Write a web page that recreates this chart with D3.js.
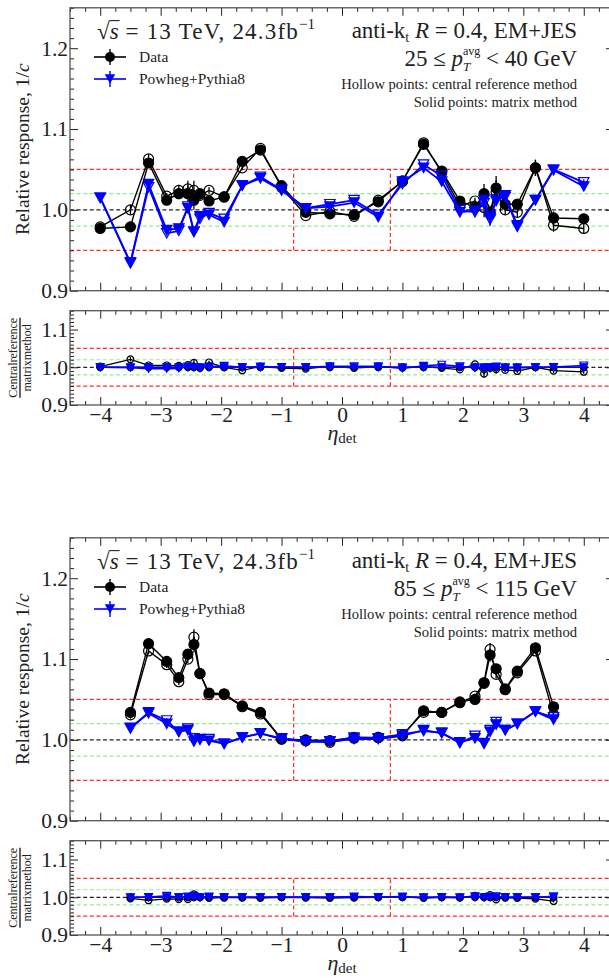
<!DOCTYPE html>
<html><head><meta charset="utf-8">
<script src="https://cdn.jsdelivr.net/npm/d3@7"></script>
<style>body{margin:0;background:#fff}svg{display:block}text{font-family:'Liberation Serif',serif;fill:#222;white-space:pre}</style>
</head><body><svg id="c" width="609" height="978"></svg>
<script>
// ---------- DATA ----------
const etaTop = [-4.0,-3.5,-3.2,-2.9,-2.7,-2.55,-2.45,-2.35,-2.2,-1.95,-1.65,-1.35,-1.0,-0.6,-0.2,0.2,0.6,1.0,1.35,1.65,1.95,2.2,2.35,2.45,2.55,2.7,2.9,3.2,3.5,4.0];
const dataMatrixTop  = [0.977,0.979,1.058,1.012,1.020,1.020,1.012,1.020,1.011,1.016,1.060,1.074,1.030,0.997,0.995,0.994,1.010,1.036,1.081,1.048,1.011,1.003,1.020,0.997,1.027,1.007,1.007,1.052,0.990,0.989];
const dataCentralTop = [0.979,1.000,1.063,1.017,1.024,1.026,1.024,1.018,1.024,1.016,1.052,1.076,1.028,0.993,0.998,0.992,1.012,1.035,1.083,1.046,1.005,1.011,1.003,0.995,1.022,1.000,0.997,1.052,0.981,0.977];
const mcMatrixTop    = [1.015,0.935,1.032,0.975,0.977,1.002,0.973,0.992,0.994,0.985,1.030,1.039,1.024,1.002,1.004,1.009,0.991,1.035,1.052,1.035,0.997,0.999,1.012,0.991,1.011,1.018,0.981,1.012,1.049,1.029];
const mcCentralTop   = [1.015,0.934,1.028,0.971,0.974,1.004,0.973,0.989,0.996,0.989,1.030,1.041,1.025,1.002,1.007,1.012,0.994,1.032,1.056,1.042,1.000,0.997,1.008,0.988,1.013,1.016,0.979,1.012,1.050,1.034];
const ratioDataTop   = [1.002,1.021,1.005,1.005,1.004,1.006,1.012,0.998,1.013,1.000,0.992,1.002,0.998,0.996,1.003,0.998,1.002,0.999,1.002,0.998,0.994,1.008,0.983,0.998,0.995,0.993,0.990,1.000,0.991,0.988];
const ratioMcTop     = [1.000,0.999,0.996,0.996,0.997,1.002,1.000,0.997,1.002,1.004,1.000,1.002,1.001,1.000,1.003,1.003,1.003,0.997,1.004,1.007,1.003,0.998,0.996,0.997,1.002,0.998,0.998,1.000,1.001,1.005];
const errDataTop     = [0.005,0.006,0.006,0.004,0.007,0.010,0.012,0.006,0.004,0.003,0.003,0.003,0.003,0.002,0.002,0.002,0.002,0.003,0.003,0.003,0.004,0.004,0.012,0.008,0.015,0.006,0.006,0.010,0.008,0.006];
const errMcTop       = [0.003,0.004,0.004,0.003,0.003,0.004,0.004,0.003,0.003,0.002,0.002,0.002,0.002,0.002,0.002,0.002,0.002,0.002,0.002,0.002,0.003,0.003,0.006,0.008,0.006,0.004,0.004,0.004,0.004,0.004];
const errRatioDataTop= [0.004,0.006,0.005,0.004,0.005,0.007,0.009,0.005,0.004,0.003,0.003,0.003,0.003,0.002,0.002,0.002,0.002,0.003,0.003,0.003,0.004,0.004,0.010,0.007,0.012,0.005,0.005,0.006,0.006,0.005];
const errRatioMcTop  = [0.003,0.003,0.003,0.003,0.003,0.003,0.003,0.003,0.003,0.002,0.002,0.002,0.002,0.002,0.002,0.002,0.002,0.002,0.002,0.002,0.003,0.003,0.004,0.004,0.004,0.003,0.003,0.003,0.003,0.004];

const etaBot = [-3.5,-3.2,-2.9,-2.7,-2.55,-2.45,-2.35,-2.2,-1.95,-1.65,-1.35,-1.0,-0.6,-0.2,0.2,0.6,1.0,1.35,1.65,1.95,2.2,2.35,2.45,2.55,2.7,2.9,3.2,3.5];
const dataMatrixBot  = [1.034,1.119,1.097,1.077,1.106,1.118,1.082,1.058,1.057,1.042,1.034,1.001,1.000,0.999,1.003,1.003,1.005,1.036,1.034,1.047,1.050,1.070,1.105,1.088,1.063,1.085,1.114,1.041];
const dataCentralBot = [1.031,1.110,1.093,1.072,1.100,1.127,1.082,1.056,1.056,1.041,1.032,1.001,0.999,0.997,1.002,1.003,1.006,1.034,1.034,1.046,1.054,1.071,1.112,1.081,1.062,1.083,1.110,1.031];
const mcMatrixBot    = [1.015,1.033,1.020,1.010,1.012,0.998,1.001,0.999,0.995,1.003,1.008,1.001,0.998,0.998,1.001,1.001,1.005,1.012,1.008,0.997,1.002,0.996,1.010,1.019,1.012,1.020,1.035,1.025];
const mcCentralBot   = [1.014,1.034,1.024,1.010,1.014,1.002,1.000,1.001,0.995,1.003,1.008,1.002,0.998,0.998,1.003,1.002,1.007,1.011,1.009,0.996,1.005,0.995,1.012,1.022,1.012,1.020,1.035,1.028];
const ratioDataBot   = [0.997,0.992,0.996,0.995,0.995,1.008,1.000,0.998,0.999,0.999,0.998,1.000,0.999,0.998,0.999,1.000,1.001,0.998,1.000,0.999,1.004,1.001,1.006,0.994,0.999,0.998,0.996,0.990];
const ratioMcBot     = [0.999,1.001,1.004,1.000,1.002,1.004,0.999,1.002,1.000,1.000,1.000,1.001,1.000,1.000,1.002,1.001,1.002,0.999,1.001,0.999,1.003,0.999,1.002,1.003,1.000,1.000,1.000,1.003];
const errDataBot     = [0.005,0.004,0.004,0.004,0.005,0.010,0.004,0.003,0.003,0.002,0.002,0.002,0.002,0.002,0.002,0.002,0.002,0.002,0.002,0.002,0.003,0.003,0.008,0.005,0.003,0.003,0.004,0.005];
const errMcBot       = [0.003,0.003,0.003,0.003,0.003,0.004,0.003,0.002,0.002,0.002,0.002,0.002,0.002,0.002,0.002,0.002,0.002,0.002,0.002,0.002,0.003,0.003,0.005,0.005,0.003,0.003,0.003,0.004];
const errRatioDataBot= [0.004,0.003,0.003,0.003,0.004,0.006,0.003,0.003,0.002,0.002,0.002,0.002,0.002,0.002,0.002,0.002,0.002,0.002,0.002,0.002,0.003,0.003,0.005,0.004,0.003,0.003,0.003,0.004];
const errRatioMcBot  = [0.003,0.003,0.003,0.003,0.003,0.004,0.003,0.002,0.002,0.002,0.002,0.002,0.002,0.002,0.002,0.002,0.002,0.002,0.002,0.002,0.003,0.003,0.004,0.004,0.003,0.003,0.003,0.004];

const xTicks = [-4,-3,-2,-1,0,1,2,3,4];
const yMainTicks = [0.9,1.0,1.1,1.2];
const yRatioTicks = [0.9,1.0,1.1];
const ptLabels = [["25","40"],["85","115"]];
const legendLabels = ["Data","Powheg+Pythia8"];
const noteLines = ["Hollow points: central reference method","Solid points: matrix method"];

// ---------- DRAW ----------
const svg = d3.select('#c');
const BLACK = '#000', BLUE = '#0000ff';
const x = d3.scaleLinear([-4.5,4.5],[70,614]);

function mtext(parent, x0, y, pieces, anchor) {
  const g = parent.append('g');
  let cx = 0, held = 0;
  pieces.forEach(p => {
    const t = g.append('text').attr('x', cx).attr('y', y + (p.dy||0))
      .attr('font-size', p.size).attr('font-style', p.it ? 'italic' : 'normal')
      .attr('letter-spacing', p.ls || 0).text(p.t);
    const w = t.node().getComputedTextLength();
    if (p.over) g.append('line').attr('x1', cx - 0.5).attr('x2', cx + w + 1)
      .attr('y1', y - p.size*0.80).attr('y2', y - p.size*0.80).attr('stroke', '#222').attr('stroke-width', 1.1);
    if (p.hold) { held = Math.max(held, w); }
    else { cx += Math.max(w, held); held = 0; }
  });
  let sx = x0;
  if (anchor === 'end') sx = x0 - cx; else if (anchor === 'middle') sx = x0 - cx/2;
  g.attr('transform', `translate(${sx},0)`);
  return g;
}

const triDown = (a, h) => `M${-a},${-h}L${a},${-h}L0,${h}Z`;

function refLines(g, y) {
  const x0 = x.range()[0], x1 = x.range()[1];
  const dash = '4,2.6';
  [[1.05,'#ff2a2a'],[0.95,'#ff2a2a'],[1.02,'#90ee90'],[0.98,'#90ee90'],[1.0,'#222']].forEach(([v,c]) => {
    g.append('line').attr('x1', x0).attr('x2', x1).attr('y1', y(v)).attr('y2', y(v))
      .attr('stroke', c).attr('stroke-width', 1.2).attr('stroke-dasharray', dash);
  });
  [-0.8, 0.8].forEach(e => g.append('line').attr('x1', x(e)).attr('x2', x(e)).attr('y1', y(0.95)).attr('y2', y(1.05))
      .attr('stroke', '#ff2a2a').attr('stroke-width', 1.2).attr('stroke-dasharray', dash));
}

function series(g, eta, vals, errs, y, color, lw, kind, solid, small) {
  const pts = eta.map((e,i) => ({e, v: vals[i], err: errs ? errs[i] : 0}));
  g.append('path').datum(pts).attr('fill','none').attr('stroke', color).attr('stroke-width', lw)
    .attr('d', d3.line().x(d => x(d.e)).y(d => y(d.v)));
  if (errs) g.selectAll(null).data(pts).join('line')
    .attr('x1', d => x(d.e)).attr('x2', d => x(d.e))
    .attr('y1', d => y(d.v - d.err)).attr('y2', d => y(d.v + d.err))
    .attr('stroke', color).attr('stroke-width', 1.3);
  const m = g.selectAll(null).data(pts).join('path')
    .attr('transform', d => `translate(${x(d.e)},${y(d.v)})`)
    .attr('fill', solid ? color : 'none').attr('stroke', color).attr('stroke-width', 1.2);
  if (kind === 'circle') {
    const r = small ? 3.4 : 5.0;
    m.attr('d', d3.symbol(d3.symbolCircle, Math.PI*r*r)());
  } else {
    m.attr('d', small ? triDown(3.8, 3.4) : triDown(5.2, 4.7));
  }
}

function axes(g, y, labelX, labelY, minorY, majorY) {
  const [x0, x1] = x.range();
  const [yb, yt] = y.range();
  const tickCol = '#222';
  const xMinor = d3.range(-4.5, 4.51, 0.25).filter(v => Math.abs(v - Math.round(v)) > 1e-6);
  const yMin = minorY.filter(v => !majorY.some(m => Math.abs(m - v) < 1e-6));
  const mk = (axis, tr) => g.append('g').attr('transform', tr).call(axis).call(s => {
      s.select('.domain').remove(); s.selectAll('line').attr('stroke', tickCol);
      s.selectAll('text').attr('fill','#333').style('font-family',"'Liberation Serif',serif").style('font-size','21.5px'); });
  mk(d3.axisBottom(x).tickValues(xMinor).tickSizeInner(-4).tickSizeOuter(0).tickFormat(''), `translate(0,${yb})`);
  mk(d3.axisTop(x).tickValues(xMinor).tickSizeInner(-4).tickSizeOuter(0).tickFormat(''), `translate(0,${yt})`);
  mk(d3.axisLeft(y).tickValues(yMin).tickSizeInner(-4).tickSizeOuter(0).tickFormat(''), `translate(${x0},0)`);
  mk(d3.axisRight(y).tickValues(yMin).tickSizeInner(-4).tickSizeOuter(0).tickFormat(''), `translate(${x1},0)`);
  mk(d3.axisBottom(x).tickValues(xTicks).tickSizeInner(-8).tickSizeOuter(0).tickPadding(2)
     .tickFormat(labelX ? (d => d < 0 ? '\u2212' + Math.abs(d) : String(d)) : ''), `translate(0,${yb})`);
  mk(d3.axisTop(x).tickValues(xTicks).tickSizeInner(-8).tickSizeOuter(0).tickFormat(''), `translate(0,${yt})`);
  mk(d3.axisLeft(y).tickValues(majorY).tickSizeInner(-8).tickSizeOuter(0).tickPadding(2)
     .tickFormat(labelY ? d3.format('.1f') : ''), `translate(${x0},0)`);
  mk(d3.axisRight(y).tickValues(majorY).tickSizeInner(-8).tickSizeOuter(0).tickFormat(''), `translate(${x1},0)`);
  g.append('rect').attr('x', x0).attr('y', yt).attr('width', x1 - x0).attr('height', yb - yt)
    .attr('fill','none').attr('stroke','#555').attr('stroke-width', 1.3);
}

function figure(off, idx, eta, dM, dC, mM, mC, rD, rM, eD, eM, eRD, eRM) {
  const yM = d3.scaleLinear([0.9,1.25],[290.7+off, 7.8+off]);
  const yR = d3.scaleLinear([0.9,1.15],[405+off, 310.7+off]);
  const clipId = 'clip' + idx;
  const defs = svg.append('defs');
  defs.append('clipPath').attr('id', clipId + 'm').append('rect')
    .attr('x', 70).attr('y', yM.range()[1]).attr('width', 544).attr('height', yM.range()[0]-yM.range()[1]);
  defs.append('clipPath').attr('id', clipId + 'r').append('rect')
    .attr('x', 70).attr('y', yR.range()[1]).attr('width', 544).attr('height', yR.range()[0]-yR.range()[1]);

  const gm = svg.append('g').attr('clip-path', `url(#${clipId}m)`);
  refLines(gm, yM);
  series(gm, eta, dC, eD, yM, BLACK, 1.4, 'circle', false, false);
  series(gm, eta, dM, eD, yM, BLACK, 1.4, 'circle', true, false);
  series(gm, eta, mC, eM, yM, BLUE, 1.8, 'tri', false, false);
  series(gm, eta, mM, eM, yM, BLUE, 1.8, 'tri', true, false);
  axes(svg.append('g'), yM, false, true, d3.range(0.9, 1.2501, 0.0125), yMainTicks);

  const gr = svg.append('g').attr('clip-path', `url(#${clipId}r)`);
  refLines(gr, yR);
  const ones = eta.map(() => 1.0);
  series(gr, eta, ones, null, yR, BLACK, 1.3, 'circle', true, true);
  series(gr, eta, rD, eRD, yR, BLACK, 1.3, 'circle', false, true);
  series(gr, eta, ones, null, yR, BLUE, 1.5, 'tri', true, true);
  series(gr, eta, rM, eRM, yR, BLUE, 1.5, 'tri', false, true);
  axes(svg.append('g'), yR, true, true, d3.range(0.9, 1.1501, 0.01), yRatioTicks);

  svg.append('text').attr('transform', `translate(29,${(yM.range()[0]+yM.range()[1])/2}) rotate(-90)`)
    .attr('text-anchor','middle').attr('font-size', 19.5).attr('fill','#333')
    .call(t => { t.append('tspan').text('Relative response, 1/'); t.append('tspan').attr('font-style','italic').text('c'); });
  const fr = svg.append('g').attr('transform', `translate(20,${(yR.range()[0]+yR.range()[1])/2}) rotate(-90)`);
  const n1 = fr.append('text').attr('text-anchor','middle').attr('y', -3).attr('font-size', 12).attr('fill','#333').text('Centralreference');
  const n2 = fr.append('text').attr('text-anchor','middle').attr('y', 10.5).attr('font-size', 12).attr('fill','#333').text('matrixmethod');
  const bw = Math.max(n1.node().getComputedTextLength(), n2.node().getComputedTextLength());
  fr.append('line').attr('x1', -bw/2).attr('x2', bw/2).attr('y1', 0).attr('y2', 0).attr('stroke','#222').attr('stroke-width', 1.4);

  mtext(svg, x(0), 440 + off, [{t:'\u03B7', size:22, it:true}, {t:'det', size:15, dy:3}], 'middle');

  mtext(svg, 97, 39 + off, [{t:'\u221A', size:23}, {t:'s', size:23, it:true, over:true},
    {t:' = 13 TeV, 24.3fb', size:23, ls:1.2}, {t:'\u22121', size:15, dy:-10}], 'start');
  mtext(svg, 577, 38 + off, [{t:'anti-k', size:23}, {t:'t', size:14, dy:3.5}, {t:' ', size:23},
    {t:'R', size:23, it:true}, {t:' = 0.4, EM+JES', size:23}], 'end');
  const pt = ptLabels[idx];
  mtext(svg, 577, 66 + off, [{t: pt[0] + ' \u2264 ', size:23}, {t:'p', size:23, it:true},
    {t:'avg', size:12, dy:-11, hold:true}, {t:'T', size:13, it:true, dy:5}, {t:' < ' + pt[1] + ' GeV', size:23}], 'end');
  svg.append('text').attr('x', 577).attr('y', 89 + off).attr('text-anchor','end').attr('font-size', 14.6).text(noteLines[0]);
  svg.append('text').attr('x', 577).attr('y', 107 + off).attr('text-anchor','end').attr('font-size', 14.6).text(noteLines[1]);

  const leg = [[BLACK, 'circle', 57], [BLUE, 'tri', 79]];
  leg.forEach(([c, k, ly], i) => {
    const lg = svg.append('g');
    lg.append('line').attr('x1', 94).attr('x2', 126).attr('y1', ly + off).attr('y2', ly + off).attr('stroke', c).attr('stroke-width', 1.6);
    lg.append('line').attr('x1', 110).attr('x2', 110).attr('y1', ly + off - 8).attr('y2', ly + off + 8).attr('stroke', c).attr('stroke-width', 1.4);
    lg.append('path').attr('transform', `translate(110,${ly + off})`).attr('fill', c)
      .attr('d', k === 'circle' ? d3.symbol(d3.symbolCircle, Math.PI*5*5)() : triDown(5.2, 4.7));
    svg.append('text').attr('x', 139).attr('y', ly + off + 5).attr('font-size', 15.5).text(legendLabels[i]);
  });
}

figure(0, 0, etaTop, dataMatrixTop, dataCentralTop, mcMatrixTop, mcCentralTop, ratioDataTop, ratioMcTop, errDataTop, errMcTop, errRatioDataTop, errRatioMcTop);
figure(530, 1, etaBot, dataMatrixBot, dataCentralBot, mcMatrixBot, mcCentralBot, ratioDataBot, ratioMcBot, errDataBot, errMcBot, errRatioDataBot, errRatioMcBot);
</script></body></html>
